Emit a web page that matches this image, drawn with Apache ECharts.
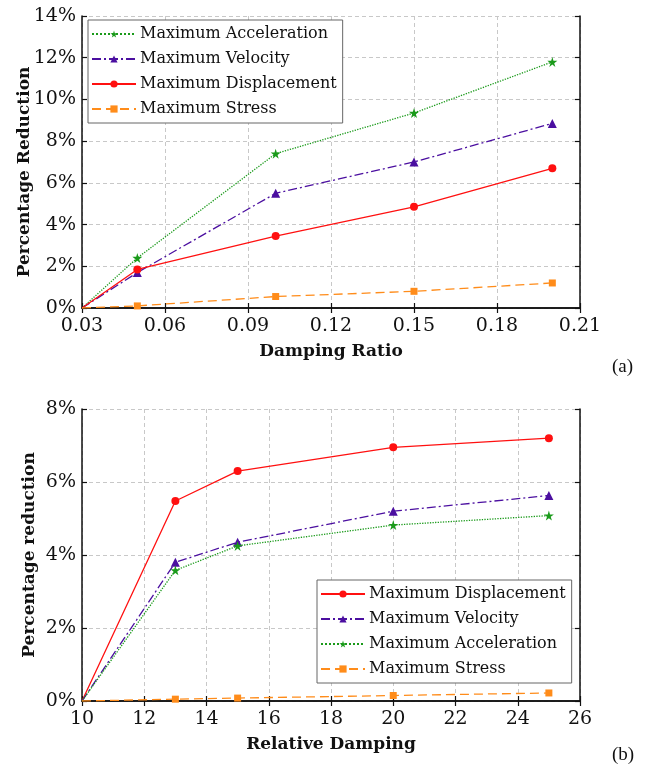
<!DOCTYPE html>
<html>
<head>
<meta charset="utf-8">
<script src="https://cdn.jsdelivr.net/npm/echarts@6/dist/echarts.min.js"></script>
<style>
  html, body { margin: 0; padding: 0; background: #fff; }
  .box { width: 652px; height: 386px; }
</style>
</head>
<body>
<div id="chartA" class="box"></div>
<div id="chartB" class="box"></div>
<script>
// chart (a): damping ratio vs percentage reduction
var dampingRatio = [0.03, 0.05, 0.10, 0.15, 0.20];
var accA = [0, 2.4, 7.4, 9.35, 11.8];
var velA = [0, 1.7, 5.5, 7.0, 8.85];
var dispA = [0, 1.85, 3.45, 4.85, 6.7];
var stressA = [0, 0.1, 0.55, 0.8, 1.2];

// chart (b): relative damping vs percentage reduction
var relDamping = [10, 13, 15, 20, 25];
var dispB = [0, 5.48, 6.3, 6.95, 7.2];
var velB = [0, 3.8, 4.35, 5.2, 5.63];
var accB = [0, 3.58, 4.25, 4.82, 5.08];
var stressB = [0, 0.05, 0.08, 0.15, 0.22];

var STAR = 'path://M50,0 L61,35 L98,35 L68,57 L79,91 L50,70 L21,91 L32,57 L2,35 L39,35 Z';
var SERIF = '"DejaVu Serif", "Liberation Serif", serif';

var styles = {
  'Maximum Acceleration': { color: '#1a9a1a', type: 'dotted', symbol: STAR, size: 10 },
  'Maximum Velocity': { color: '#4b0fa0', type: [9, 3, 2, 3], symbol: 'triangle', size: 9 },
  'Maximum Displacement': { color: '#ff1010', type: 'solid', symbol: 'circle', size: 8 },
  'Maximum Stress': { color: '#ff8c1a', type: [9, 5], symbol: 'rect', size: 7 }
};

function pairs(xs, ys) {
  // first point sits on the origin with no visible marker
  return xs.map(function (x, i) {
    return i === 0 ? { value: [x, ys[i]], symbol: 'none' } : [x, ys[i]];
  });
}

function makeSeries(name, xs, ys) {
  var s = styles[name];
  return {
    name: name,
    type: 'line',
    data: pairs(xs, ys),
    symbol: s.symbol,
    symbolSize: s.size,
    showSymbol: true,
    itemStyle: { color: s.color },
    lineStyle: { color: s.color, width: 1.3, type: s.type },
    emphasis: { disabled: true },
    z: 3
  };
}

function boxAxes(min, max, interval, fmt, isX) {
  var main = {
    type: 'value', min: min, max: max, interval: interval,
    axisLine: { show: true, lineStyle: { color: '#111', width: 1.5 } },
    axisTick: { show: true, inside: true, length: 5, lineStyle: { color: '#111', width: 1.2 } },
    axisLabel: { color: '#111', fontFamily: SERIF, fontSize: 19, formatter: fmt, margin: isX ? 9 : 6 },
    splitLine: { show: true, lineStyle: { color: '#c8c8c8', type: [4, 3], width: 1 } }
  };
  var mirror = {
    type: 'value', min: min, max: max, interval: interval,
    axisLine: { show: true, lineStyle: { color: '#111', width: 1.5 } },
    axisTick: { show: true, inside: true, length: 5, lineStyle: { color: '#111', width: 1.2 } },
    axisLabel: { show: false },
    splitLine: { show: false }
  };
  main.position = isX ? 'bottom' : 'left';
  mirror.position = isX ? 'top' : 'right';
  return [main, mirror];
}

function makeOption(cfg) {
  return {
    animation: false,
    backgroundColor: '#fff',
    grid: { left: 82, right: 72, top: cfg.top, height: cfg.height, containLabel: false },
    xAxis: boxAxes(cfg.xMin, cfg.xMax, cfg.xInt, cfg.xFmt, true),
    yAxis: boxAxes(cfg.yMin, cfg.yMax, cfg.yInt, '{value}%', false),
    legend: {
      orient: 'vertical',
      left: cfg.legendLeft,
      top: cfg.legendTop,
      data: cfg.legendOrder,
      itemWidth: 44,
      itemHeight: 9,
      itemGap: 9,
      padding: [6, 6, 6, 3],
      borderColor: '#666',
      borderWidth: 1,
      backgroundColor: '#fff',
      selectedMode: false,
      textStyle: { color: '#111', fontFamily: SERIF, fontSize: 16, padding: [0, 0, 0, -1] }
    },
    graphic: [{
      type: 'text', left: 612, top: cfg.tagTop,
      style: { text: cfg.tag, fontFamily: '"Liberation Serif", serif', fontSize: 19, fill: '#111' }
    }, {
      type: 'text', x: cfg.xNamePos[0], y: cfg.xNamePos[1],
      style: {
        text: cfg.xName, fontFamily: SERIF, fontSize: 17, fontWeight: 'bold', fill: '#111',
        align: 'center', verticalAlign: 'middle'
      }
    }, {
      type: 'text', x: cfg.yNamePos[0], y: cfg.yNamePos[1], rotation: Math.PI / 2,
      style: {
        text: cfg.yName, fontFamily: SERIF, fontSize: 17, fontWeight: 'bold', fill: '#111',
        align: 'center', verticalAlign: 'middle'
      }
    }],
    series: cfg.series
  };
}

var chartA = echarts.init(document.getElementById('chartA'));
chartA.setOption(makeOption({
  top: 16, height: 292,
  xMin: 0.03, xMax: 0.21, xInt: 0.03,
  xFmt: function (v) { return v.toFixed(2); },
  xName: 'Damping Ratio', xNamePos: [331, 352],
  yName: 'Percentage Reduction', yNamePos: [25, 172],
  yMin: 0, yMax: 14, yInt: 2,
  legendLeft: 88, legendTop: 20,
  legendOrder: ['Maximum Acceleration', 'Maximum Velocity', 'Maximum Displacement', 'Maximum Stress'],
  tag: '(a)', tagTop: 358,
  series: [
    makeSeries('Maximum Acceleration', dampingRatio, accA),
    makeSeries('Maximum Velocity', dampingRatio, velA),
    makeSeries('Maximum Displacement', dampingRatio, dispA),
    makeSeries('Maximum Stress', dampingRatio, stressA)
  ]
}));

var chartB = echarts.init(document.getElementById('chartB'));
chartB.setOption(makeOption({
  top: 23, height: 292,
  xMin: 10, xMax: 26, xInt: 2,
  xFmt: '{value}',
  xName: 'Relative Damping', xNamePos: [331, 359],
  yName: 'Percentage reduction', yNamePos: [30, 169],
  yMin: 0, yMax: 8, yInt: 2,
  legendLeft: 317, legendTop: 194,
  legendOrder: ['Maximum Displacement', 'Maximum Velocity', 'Maximum Acceleration', 'Maximum Stress'],
  tag: '(b)', tagTop: 360,
  series: [
    makeSeries('Maximum Displacement', relDamping, dispB),
    makeSeries('Maximum Velocity', relDamping, velB),
    makeSeries('Maximum Acceleration', relDamping, accB),
    makeSeries('Maximum Stress', relDamping, stressB)
  ]
}));
</script>
</body>
</html>
